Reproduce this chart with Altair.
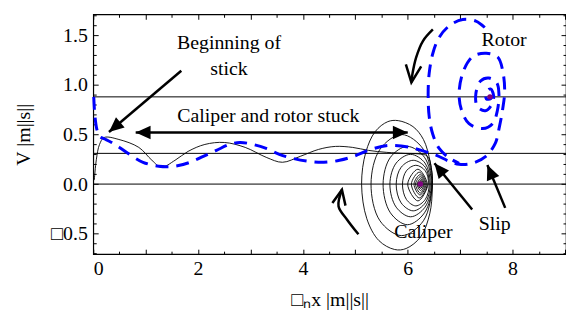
import math
import altair as alt
import pandas as pd

FONT = "Liberation Serif"

# ---------------- data ----------------
# caliper trajectory (black thin line): stuck phase then clockwise spiral
caliper_x = [0.02, 0.06, 0.12, 0.21, 0.49, 0.87, 1.12, 1.30, 1.56, 1.81, 2.13, 2.50, 2.90, 3.30, 3.61,
             3.95, 4.30, 4.62, 4.95, 5.25, 5.60, 5.95, 6.20, 6.38,
             6.46, 6.47, 6.42, 6.25, 5.97, 5.75, 5.45, 5.22, 5.12, 5.20, 5.38, 5.62, 5.82, 6.10, 6.30, 6.43,
             6.47, 6.30, 5.885, 5.47, 5.30, 5.47, 5.885, 6.30,
             6.46, 6.32, 5.995, 5.67, 5.53, 5.67, 5.995, 6.32,
             6.45, 6.33, 6.055, 5.78, 5.66, 5.78, 6.055, 6.33,
             6.43, 6.335, 6.105, 5.875, 5.78, 5.875, 6.105, 6.335,
             6.41, 6.335, 6.155, 5.975, 5.90, 5.975, 6.155, 6.335,
             6.39, 6.195, 6.00, 6.195,
             6.37, 6.22, 6.07, 6.22,
             6.35, 6.235, 6.12, 6.235,
             6.33, 6.24, 6.15, 6.24,
             6.31, 6.245, 6.18, 6.245,
             6.29, 6.245, 6.20, 6.245,
             6.27, 6.245, 6.22, 6.245,
             6.255]
caliper_y = [0.04, 0.25, 0.40, 0.47, 0.45, 0.37, 0.24, 0.17, 0.24, 0.33, 0.40, 0.42, 0.37, 0.27, 0.22,
             0.28, 0.35, 0.38, 0.37, 0.34, 0.32, 0.31, 0.305, 0.28,
             0.12, -0.05, -0.30, -0.53, -0.65, -0.66, -0.57, -0.35, 0.0, 0.32, 0.53, 0.63, 0.64, 0.58, 0.45, 0.22,
             0.0, -0.37, -0.52, -0.37, 0.0, 0.35, 0.50, 0.35,
             0.0, -0.29, -0.41, -0.29, 0.0, 0.27, 0.38, 0.27,
             0.0, -0.233, -0.33, -0.233, 0.0, 0.212, 0.30, 0.212,
             0.0, -0.19, -0.27, -0.19, 0.0, 0.17, 0.24, 0.17,
             0.0, -0.155, -0.22, -0.155, 0.0, 0.134, 0.19, 0.134,
             0.0, -0.17, 0.0, 0.15,
             0.0, -0.14, 0.0, 0.12,
             0.0, -0.11, 0.0, 0.095,
             0.0, -0.09, 0.0, 0.075,
             0.0, -0.065, 0.0, 0.055,
             0.0, -0.045, 0.0, 0.04,
             0.0, -0.03, 0.0, 0.025,
             0.0]

# rotor trajectory (blue dashed): stuck phase then counter-clockwise spiral
rotor_x = [0.01, 0.03, 0.07, 0.12, 0.22, 0.35, 0.50, 0.72, 0.95, 1.25, 1.56, 1.85, 2.10, 2.35, 2.60, 2.80,
           3.05, 3.30, 3.55, 3.80, 4.10, 4.40, 4.70, 4.97, 5.30, 5.65, 6.05, 6.32, 6.55, 6.79, 6.98, 7.23,
           7.49, 7.67, 7.75, 7.81, 7.85, 7.81, 7.72, 7.50, 7.25, 7.07, 6.98, 7.03, 7.17, 7.43, 7.62, 7.71,
           7.74, 7.70, 7.55, 7.39, 7.30, 7.33, 7.48, 7.60, 7.64, 7.58, 7.50, 7.50, 7.58, 7.60]
rotor_y = [0.88, 0.70, 0.55, 0.48, 0.455, 0.42, 0.37, 0.29, 0.22, 0.18, 0.18, 0.22, 0.28, 0.34, 0.40, 0.42,
           0.40, 0.36, 0.30, 0.26, 0.23, 0.22, 0.24, 0.28, 0.35, 0.39, 0.37, 0.33, 0.29, 0.23, 0.20, 0.21,
           0.28, 0.41, 0.58, 0.75, 0.94, 1.15, 1.28, 1.32, 1.29, 1.15, 0.92, 0.74, 0.61, 0.56, 0.61, 0.74,
           0.91, 1.02, 1.07, 1.04, 0.91, 0.78, 0.74, 0.80, 0.89, 0.96, 0.93, 0.86, 0.86, 0.89]

# outer arc of the rotor spiral
rotor_outer_x = [7.47, 7.30, 7.05, 6.80, 6.60, 6.48, 6.41, 6.39, 6.41, 6.48, 6.60, 6.80, 6.98]
rotor_outer_y = [1.58, 1.645, 1.66, 1.60, 1.48, 1.32, 1.12, 0.90, 0.68, 0.50, 0.36, 0.26, 0.21]

ref_levels = [0.88, 0.31, 0.0]
focus_x = [6.24, 7.57]
focus_y = [0.0, 0.88]

x_label_values = [0, 2, 4, 6, 8]
x_major_ticks = [0, 1, 2, 3, 4, 5, 6, 7, 8, 9]
x_minor_ticks = [0.5, 1.5, 2.5, 3.5, 4.5, 5.5, 6.5, 7.5, 8.5]
y_label_values = [-0.5, 0.0, 0.5, 1.0, 1.5]
y_minor_ticks = [-0.7, -0.6, -0.4, -0.3, -0.2, -0.1, 0.1, 0.2, 0.3, 0.4, 0.6, 0.7, 0.8, 0.9,
                 1.1, 1.2, 1.3, 1.4, 1.6, 1.7]

text_labels = ["Beginning of", "stick", "Caliper and rotor stuck", "Rotor", "Caliper", "Slip"]
text_x = [2.59, 2.59, 3.34, 7.84, 6.30, 7.66]
text_y = [1.36, 1.105, 0.63, 1.395, -0.54, -0.46]

# straight arrows: (start, tip)
arrow_names = ["begin", "stuck", "slip1", "slip2"]
arrow_x0 = [1.68, 0.81, 7.23, 7.86]
arrow_y0 = [1.143, 0.52, -0.257, -0.24]
arrow_x1 = [0.30, 6.00, 6.51, 7.52]
arrow_y1 = [0.526, 0.52, 0.21, 0.193]

# curved arrows
rot_arrow_x = [6.48, 6.29, 6.16, 6.09, 6.07]
rot_arrow_y = [1.56, 1.443, 1.276, 1.11, 1.026]
cal_arrow_x = [5.06, 4.84, 4.68, 4.745]
cal_arrow_y = [-0.507, -0.357, -0.224, -0.057]

# ---------------- chart geometry ----------------
W, H = 477, 242
XD = [0, 9.02]
YD = [-0.707, 1.713]
X_S = W / (XD[1] - XD[0])
Y_S = H / (YD[1] - YD[0])
xs = alt.Scale(domain=XD, nice=False, zero=False)
ys = alt.Scale(domain=YD, nice=False, zero=False)


def head_angle(x0, y0, x1, y1):
    dx = (x1 - x0) * X_S
    dy = -(y1 - y0) * Y_S
    return math.degrees(math.atan2(dx, -dy)) % 360


X = lambda: alt.X("x:Q", scale=xs, axis=None)
Y = lambda: alt.Y("y:Q", scale=ys, axis=None)

# tables
cal_df = pd.DataFrame({"x": caliper_x, "y": caliper_y, "i": range(len(caliper_x))})
rot_df = pd.concat([
    pd.DataFrame({"x": rotor_x, "y": rotor_y, "i": range(len(rotor_x)), "seg": "main"}),
    pd.DataFrame({"x": rotor_outer_x, "y": rotor_outer_y, "i": range(len(rotor_outer_x)), "seg": "outer"}),
])
ref_df = pd.DataFrame({"y": ref_levels})
focus_df = pd.DataFrame({"x": focus_x, "y": focus_y})
text_df = pd.DataFrame({"x": text_x, "y": text_y, "t": text_labels})

shaft_rows = []
for n, a, b, c, d in zip(arrow_names, arrow_x0, arrow_y0, arrow_x1, arrow_y1):
    shaft_rows += [{"a": n, "i": 0, "x": a, "y": b}, {"a": n, "i": 1, "x": c, "y": d}]
for k, (a, b) in enumerate(zip(rot_arrow_x, rot_arrow_y)):
    shaft_rows.append({"a": "rot", "i": k, "x": a, "y": b})
for k, (a, b) in enumerate(zip(cal_arrow_x, cal_arrow_y)):
    shaft_rows.append({"a": "cal", "i": k, "x": a, "y": b})
shaft_df = pd.DataFrame(shaft_rows)

heads = []
for n, a, b, c, d in zip(arrow_names, arrow_x0, arrow_y0, arrow_x1, arrow_y1):
    heads.append({"x": c, "y": d, "ang": head_angle(a, b, c, d)})
    if n == "stuck":
        heads.append({"x": a, "y": b, "ang": head_angle(c, d, a, b)})
filled_df = pd.DataFrame(heads)
open_df = pd.DataFrame([
    {"x": rot_arrow_x[-1], "y": rot_arrow_y[-1], "sz": 1200,
     "ang": head_angle(rot_arrow_x[-2], rot_arrow_y[-2], rot_arrow_x[-1], rot_arrow_y[-1])},
    {"x": cal_arrow_x[-1], "y": cal_arrow_y[-1], "sz": 900,
     "ang": head_angle(cal_arrow_x[-2], cal_arrow_y[-2], cal_arrow_x[-1], cal_arrow_y[-1])},
])

# ---------------- axes (labels + inward ticks, mirrored) ----------------
anchor = pd.DataFrame({"x": [0.0], "y": [0.0]})


def axis_layer(xaxis, yaxis):
    return alt.Chart(anchor).mark_point(opacity=0).encode(
        x=alt.X("x:Q", scale=xs, axis=xaxis),
        y=alt.Y("y:Q", scale=ys, axis=yaxis),
    )


def tick_axis(orient, values, size):
    return alt.Axis(orient=orient, values=values, labels=False, ticks=True, tickSize=size,
                    tickColor="black", tickWidth=1, domain=False, grid=False, offset=-size, title="")


lab_x = alt.Axis(orient="bottom", values=x_label_values, labelExpr="format(datum.value, 'd')",
                 ticks=False, tickSize=0, domain=False, grid=False,
                 labelFont=FONT, labelFontSize=20, labelColor="black", labelPadding=5,
                 title="\u25a1\u2099x |m||s||", titleFont=FONT, titleFontSize=20,
                 titleFontWeight="normal", titleColor="black",
                 titleX=W / 2, titleY=46, titleBaseline="middle", titleAlign="center")
lab_y = alt.Axis(orient="left", values=y_label_values,
                 labelExpr="datum.value < 0 ? '\u25a1' + format(-datum.value, '.1f') : format(datum.value, '.1f')",
                 ticks=False, tickSize=0, domain=False, grid=False,
                 labelFont=FONT, labelFontSize=20, labelColor="black", labelPadding=6,
                 title="V |m||s||", titleFont=FONT, titleFontSize=20, titleFontWeight="normal",
                 titleColor="black", titleX=-70, titleY=H / 2, titleBaseline="middle",
                 titleAlign="center", titleAngle=270)

axes_layers = [
    axis_layer(lab_x, lab_y),
    axis_layer(tick_axis("bottom", x_major_ticks, 5), tick_axis("left", y_label_values, 5)),
    axis_layer(tick_axis("bottom", x_minor_ticks, 3), tick_axis("left", y_minor_ticks, 3)),
    axis_layer(tick_axis("top", x_major_ticks, 5), tick_axis("right", y_label_values, 5)),
    axis_layer(tick_axis("top", x_minor_ticks, 3), tick_axis("right", y_minor_ticks, 3)),
]

# ---------------- marks ----------------
refs = alt.Chart(ref_df).mark_rule(color="black", strokeWidth=1).encode(y=Y())

caliper = alt.Chart(cal_df).mark_line(color="black", strokeWidth=0.9, interpolate="catmull-rom").encode(
    x=X(), y=Y(), order="i:Q")

rotor = alt.Chart(rot_df).mark_line(color="#0000ff", strokeWidth=3, strokeDash=[13, 8],
                                    interpolate="catmull-rom").encode(
    x=X(), y=Y(), order="i:Q", detail="seg:N")

foci = alt.Chart(focus_df).mark_circle(color="#800080", size=30, opacity=1).encode(x=X(), y=Y())

shafts = alt.Chart(shaft_df).mark_line(color="black", strokeWidth=2.5, interpolate="catmull-rom").encode(
    x=X(), y=Y(), order="i:Q", detail="a:N")

filled_heads = alt.Chart(filled_df).mark_point(
    shape="M0,0L0.45,1L-0.45,1Z", filled=True, color="black", size=900, opacity=1).encode(
    x=X(), y=Y(), angle=alt.Angle("ang:Q", scale=None))

open_heads = alt.Chart(open_df).mark_point(
    shape="M-0.45,1L0,0L0.45,1", filled=False, color="black", strokeWidth=2.5, opacity=1).encode(
    x=X(), y=Y(), angle=alt.Angle("ang:Q", scale=None), size=alt.Size("sz:Q", scale=None))

texts = alt.Chart(text_df).mark_text(font=FONT, fontSize=20, color="black", align="center",
                                     baseline="alphabetic").encode(x=X(), y=Y(), text="t:N")

chart = alt.layer(
    *axes_layers, refs, caliper, rotor, foci, shafts, filled_heads, open_heads, texts
).resolve_axis(x="independent", y="independent").properties(
    width=W, height=H,
    padding={"left": 86, "top": 5, "right": 0, "bottom": 57},
    autosize=alt.AutoSizeParams(type="none"),
    background="white",
).configure_view(stroke="black", strokeWidth=1.2)

chart.save("out.html", embed_options={"renderer": "svg", "actions": False})
